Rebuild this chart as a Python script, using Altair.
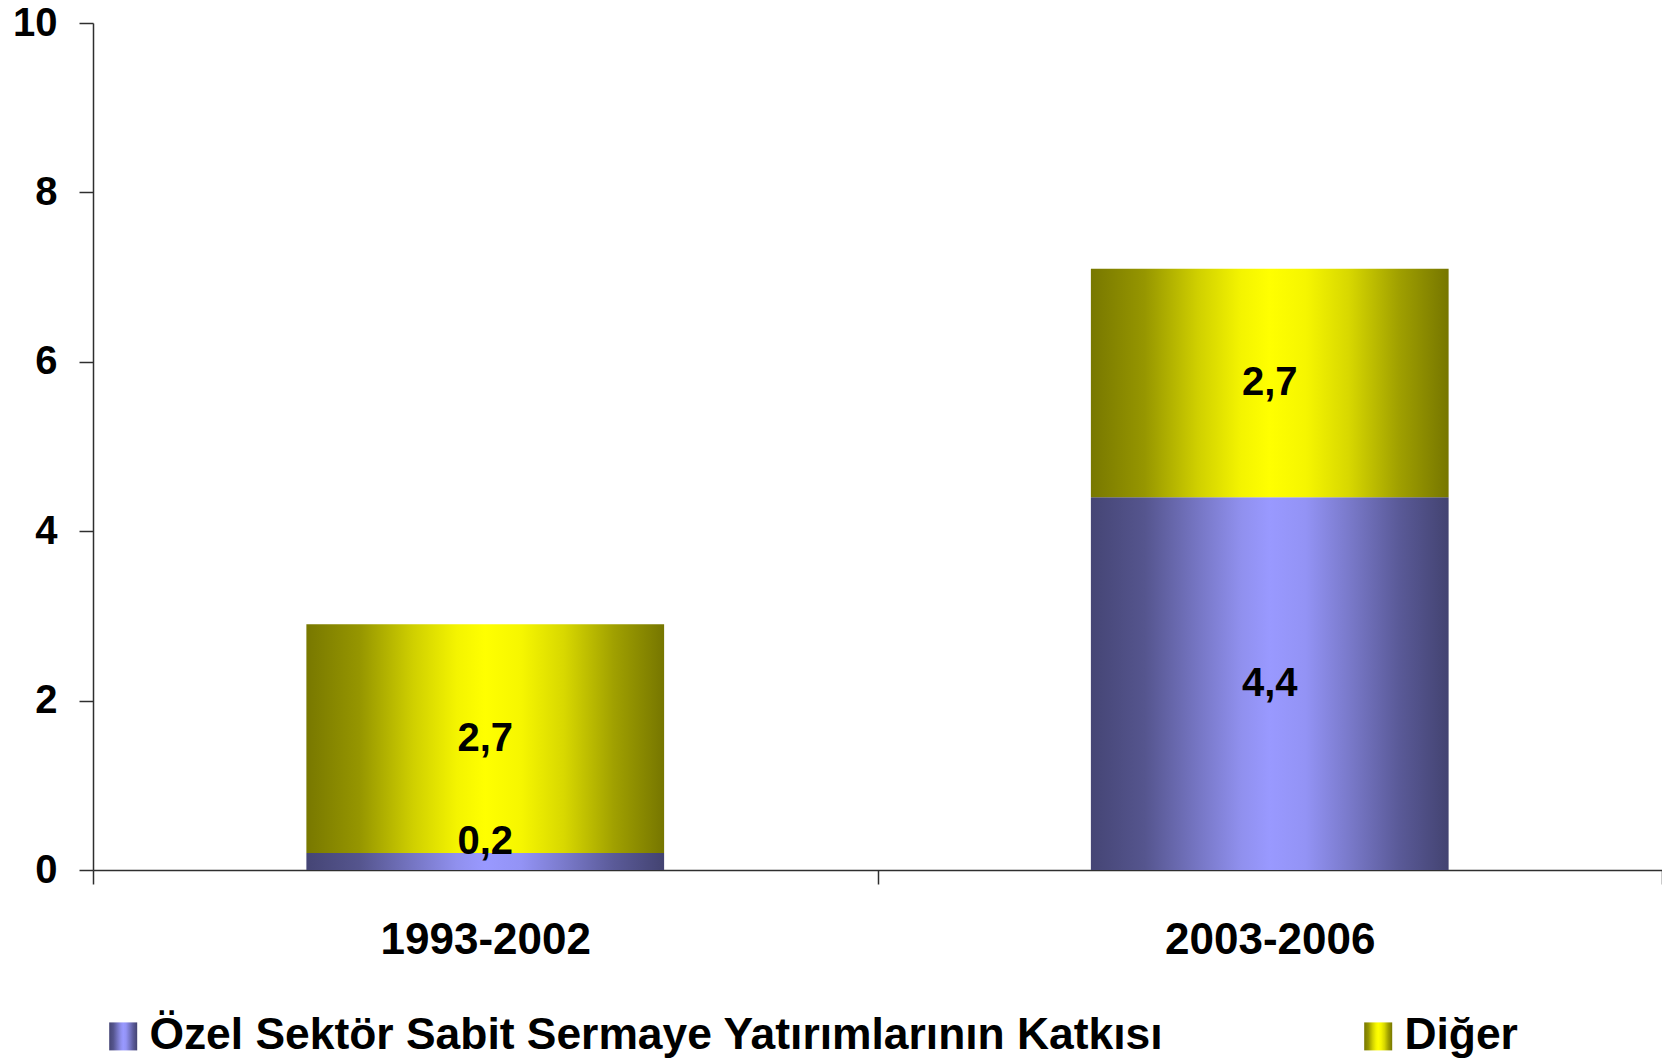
import altair as alt
import pandas as pd

# ---- data ----
periods = ["1993-2002", "2003-2006"]
series = ["Özel Sektör Sabit Sermaye Yatırımlarının Katkısı", "Diğer"]
ozel_values = [0.2, 4.4]
diger_values = [2.7, 2.7]
ozel_labels = ["0,2", "4,4"]
diger_labels = ["2,7", "2,7"]
y_tick_values = [0, 2, 4, 6, 8, 10]

rows = []
for i, p in enumerate(periods):
    rows.append({"period": p, "series": series[0], "value": ozel_values[i],
                 "label": ozel_labels[i], "ord": 0})
    rows.append({"period": p, "series": series[1], "value": diger_values[i],
                 "label": diger_labels[i], "ord": 1})
df = pd.DataFrame(rows)

# ---- styling ----
FONT = "Liberation Sans, Arial, Helvetica, sans-serif"
AXIS_COLOR = "#2e2e2e"

blue_stops = [(0, "#454575"), (0.15, "#55558e"), (0.3, "#7676c4"), (0.42, "#9090ee"),
              (0.5, "#9999ff"), (0.6, "#9393f5"), (0.72, "#7a7acb"), (0.86, "#5a5a98"),
              (1, "#434371")]
yellow_stops = [(0, "#787800"), (0.15, "#969600"), (0.3, "#d0d000"), (0.42, "#f4f400"),
                (0.5, "#ffff00"), (0.6, "#f6f600"), (0.72, "#d8d800"), (0.86, "#a0a000"),
                (1, "#767600")]


def grad_expr(stops):
    s = ", ".join("{offset: %s, color: '%s'}" % (o, c) for o, c in stops)
    return "{gradient: 'linear', x1: 0, y1: 0, x2: 1, y2: 0, stops: [%s]}" % s


color_scale = alt.Scale(
    domain=series,
    range=[alt.ExprRef(expr=grad_expr(blue_stops)), alt.ExprRef(expr=grad_expr(yellow_stops))],
)

base = alt.Chart(df).transform_stack(
    stack="value",
    groupby=["period"],
    as_=["y0", "y1"],
    sort=[alt.SortField("ord", order="ascending")],
)

x_scale = alt.Scale(domain=periods, paddingInner=0, paddingOuter=0)

x_enc = alt.X(
    "period:N",
    scale=x_scale,
    axis=alt.Axis(
        title=None, labelAngle=0, labelFont=FONT, labelFontSize=44, labelFontWeight="bold",
        labelColor="black", labelLimit=2000, tickBand="extent", tickSize=14,
        tickColor=AXIS_COLOR, tickWidth=1.5, domainColor=AXIS_COLOR, domainWidth=1.5,
        labelPadding=34, grid=False,
    ),
)

y_scale = alt.Scale(domain=[0, 10], nice=False)

bars = base.mark_bar(width=alt.RelativeBandSize(0.456)).encode(
    x=x_enc,
    y=alt.Y(
        "y0:Q",
        scale=y_scale,
        axis=alt.Axis(
            title=None, values=y_tick_values, format="d", labelFont=FONT, labelFontSize=40,
            labelFontWeight="bold", labelColor="black", tickSize=14, tickColor=AXIS_COLOR,
            tickWidth=1.5, domainColor=AXIS_COLOR, domainWidth=1.5, labelPadding=22, grid=False,
        ),
    ),
    y2="y1:Q",
    color=alt.Color(
        "series:N",
        scale=color_scale,
        legend=alt.Legend(
            title=None, orient="none", legendX=8, legendY=991, direction="horizontal",
            columns=2, columnPadding=192, symbolType="square", symbolSize=784,
            symbolStrokeWidth=0, symbolOpacity=1, labelFont=FONT, labelFontSize=44.4,
            labelFontWeight="bold", labelColor="black", labelOffset=4, labelLimit=2000,
            padding=0,
        ),
    ),
    order=alt.Order("ord:Q"),
)

text_style = dict(font=FONT, fontSize=40, fontWeight="bold", color="black", baseline="middle")

# labels centred in segments tall enough to hold them
texts_mid = base.transform_filter("(datum.y1 - datum.y0) >= 0.5").transform_calculate(
    ly="(datum.y0 + datum.y1) / 2"
).mark_text(**text_style).encode(
    x=alt.X("period:N", scale=x_scale),
    y=alt.Y("ly:Q", scale=y_scale),
    text="label:N",
)

# labels of thin segments sit on the segment's top edge
texts_thin = base.transform_filter("(datum.y1 - datum.y0) < 0.5").mark_text(
    dy=-11, **text_style
).encode(
    x=alt.X("period:N", scale=x_scale),
    y=alt.Y("y1:Q", scale=y_scale),
    text="label:N",
)

chart = (
    alt.layer(bars, texts_mid, texts_thin)
    .properties(
        width=1569,
        height=847,
        autosize=alt.AutoSizeParams(type="none"),
        padding={"left": 85, "top": 15, "right": 0, "bottom": 188},
        background="white",
    )
    .configure_view(stroke=None)
)

chart.save("out.html", embed_options={"renderer": "svg", "actions": False})
